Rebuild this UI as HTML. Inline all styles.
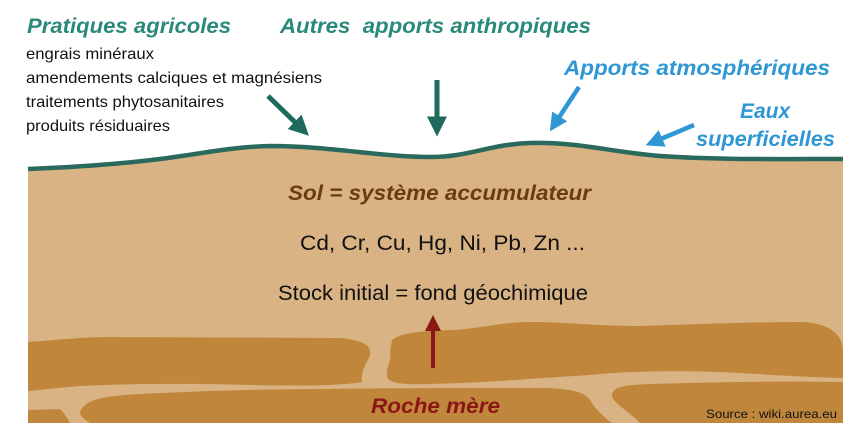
<!DOCTYPE html>
<html><head><meta charset="utf-8"><style>
html,body{margin:0;padding:0;background:#fff}
svg{display:block}
text{font-family:"Liberation Sans",sans-serif}
.h{font-weight:bold;font-style:italic;font-size:21px}
</style></head><body>
<svg width="868" height="442" viewBox="0 0 868 442" xmlns="http://www.w3.org/2000/svg">
<defs>
<marker id="ag" markerWidth="4" markerHeight="4" refX="1.5" refY="2" orient="auto" markerUnits="strokeWidth"><path d="M0,0 L4,2 L0,4 Z" fill="#1e6a5c"/></marker>
<marker id="ab" markerWidth="4" markerHeight="4" refX="1.5" refY="2" orient="auto" markerUnits="strokeWidth"><path d="M0,0 L4,2 L0,4 Z" fill="#2e97d4"/></marker>
<marker id="ar" markerWidth="4" markerHeight="4" refX="1.5" refY="2" orient="auto" markerUnits="strokeWidth"><path d="M0,0 L4,2 L0,4 Z" fill="#8a1616"/></marker>
</defs>
<path d="M28,169 C80,167 120,164 160,159 C200,154 230,147 270,146 C330,146 380,157 430,157 C470,157 490,144 530,143 C580,142 610,152 660,156 C720,160 780,159 843,159 L843,423 L28,423 Z" fill="#d9b384"/>
<g fill="#c0873c">
<path d="M28,342 C60,340 80,337 110,337 L340,338 C360,340 372,344 370,355 C366,365 360,372 362,382 C340,386 300,386 250,385 C180,383 120,384 80,386 C55,388 40,390 28,391 Z"/>
<path d="M392,340 C400,333 420,331 450,330 C480,329 500,322 530,322 C570,322 590,326 640,326 C700,324 760,322 800,322 C830,323 842,334 843,350 L843,378 C800,377 760,374 720,372 C660,370 620,372 590,375 C540,378 480,383 430,384 C400,385 388,383 387,376 C386,366 392,360 390,352 Z"/>
<path d="M80,412 C85,400 100,396 140,394 C200,391 260,389 320,389 C400,388 480,388 540,388 C570,388 585,392 590,400 C596,410 605,418 612,423 L90,423 C85,420 80,416 80,412 Z"/>
<path d="M28,410 L60,409 C65,414 68,419 70,423 L28,423 Z"/>
<path d="M612,396 C612,388 620,385 650,384 C720,382 790,381 843,382 L843,423 L640,423 C630,412 614,404 612,396 Z"/>
</g>
<path d="M28,169 C80,167 120,164 160,159 C200,154 230,147 270,146 C330,146 380,157 430,157 C470,157 490,144 530,143 C580,142 610,152 660,156 C720,160 780,159 843,159" fill="none" stroke="#2a6a5c" stroke-width="4.5"/>
<line x1="268" y1="96" x2="300" y2="127" stroke="#1e6a5c" stroke-width="5" marker-end="url(#ag)"/>
<line x1="437" y1="80" x2="437" y2="124" stroke="#1e6a5c" stroke-width="5" marker-end="url(#ag)"/>
<line x1="579" y1="87" x2="556" y2="122" stroke="#2e97d4" stroke-width="4.5" marker-end="url(#ab)"/>
<line x1="694" y1="125" x2="656" y2="141" stroke="#2e97d4" stroke-width="4.5" marker-end="url(#ab)"/>
<line x1="433" y1="368" x2="433" y2="325" stroke="#8a1616" stroke-width="4" marker-end="url(#ar)"/>
<text x="27" y="33" class="h" fill="#2a8a7a" textLength="204" lengthAdjust="spacingAndGlyphs">Pratiques agricoles</text>
<text x="280" y="33" class="h" fill="#2a8a7a" textLength="311" lengthAdjust="spacingAndGlyphs">Autres&#160; apports anthropiques</text>
<text x="564" y="75" class="h" fill="#2e97d4" textLength="266" lengthAdjust="spacingAndGlyphs">Apports atmosphériques</text>
<text x="740" y="118" class="h" fill="#2e97d4">Eaux</text>
<text x="696" y="146" class="h" fill="#2e97d4" textLength="139" lengthAdjust="spacingAndGlyphs">superficielles</text>
<g font-size="16" fill="#111">
<text x="26" y="59" textLength="128" lengthAdjust="spacingAndGlyphs">engrais minéraux</text>
<text x="26" y="83" textLength="296" lengthAdjust="spacingAndGlyphs">amendements calciques et magnésiens</text>
<text x="26" y="107" textLength="198" lengthAdjust="spacingAndGlyphs">traitements phytosanitaires</text>
<text x="26" y="131" textLength="144" lengthAdjust="spacingAndGlyphs">produits résiduaires</text>
</g>
<text x="288" y="200" class="h" fill="#6a3c12" font-size="20" textLength="303" lengthAdjust="spacingAndGlyphs">Sol = système accumulateur</text>
<text x="300" y="250" font-size="21" fill="#111" textLength="285" lengthAdjust="spacingAndGlyphs">Cd, Cr, Cu, Hg, Ni, Pb, Zn ...</text>
<text x="278" y="300" font-size="21" fill="#111" textLength="310" lengthAdjust="spacingAndGlyphs">Stock initial = fond géochimique</text>
<text x="371" y="413" class="h" fill="#8a1616" font-size="20" textLength="129" lengthAdjust="spacingAndGlyphs">Roche mère</text>
<text x="706" y="418" font-size="12" fill="#111" textLength="131" lengthAdjust="spacingAndGlyphs">Source : wiki.aurea.eu</text>
</svg>
</body></html>
